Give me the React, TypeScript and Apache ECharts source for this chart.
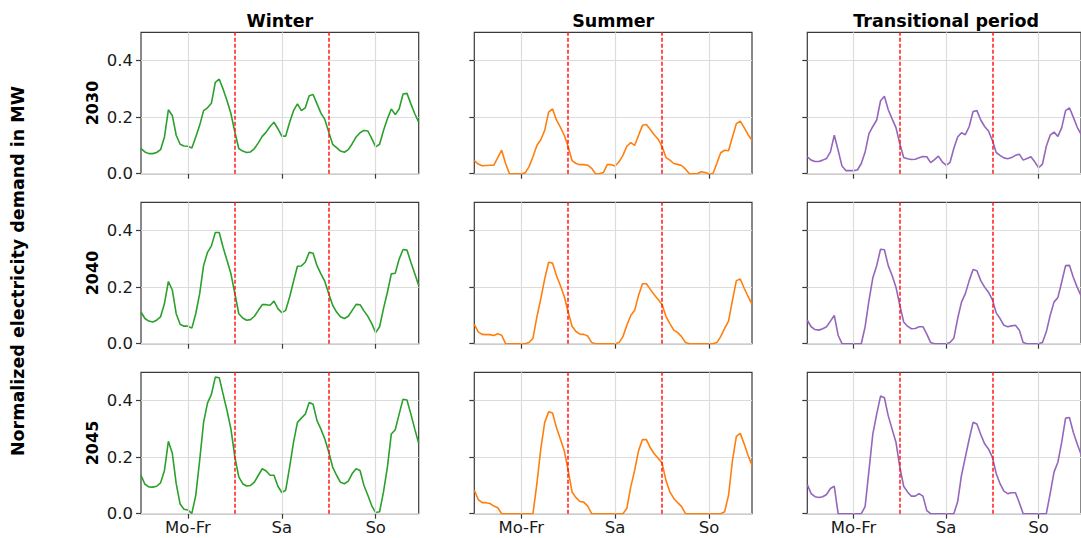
import React, { useEffect, useRef } from "react";
import * as echarts from "echarts";

// ---- data (normalized electricity demand, hourly, 72 h = Mo-Fr day, Sa, So) ----
const seasons = ["Winter", "Summer", "Transitional period"];
const years = ["2030", "2040", "2045"];
const dayLabels = ["Mo-Fr", "Sa", "So"];
const dayTickHours = [12, 36, 60];
const dayBoundaryHours = [24, 48];
const yTickValues = [0, 0.2, 0.4];

const winter2030 = [
  0.089, 0.077, 0.071, 0.071, 0.075, 0.085, 0.13, 0.226, 0.206, 0.136, 0.104, 0.098,
  0.097, 0.091, 0.13, 0.171, 0.223, 0.233, 0.249, 0.323, 0.334, 0.299, 0.258, 0.212,
  0.147, 0.089, 0.08, 0.075, 0.077, 0.089, 0.109, 0.132, 0.147, 0.167, 0.182, 0.159,
  0.133, 0.133, 0.182, 0.223, 0.247, 0.223, 0.233, 0.276, 0.28, 0.247, 0.214, 0.192,
  0.147, 0.104, 0.092, 0.08, 0.076, 0.085, 0.106, 0.13, 0.145, 0.153, 0.151, 0.124,
  0.095, 0.104, 0.153, 0.194, 0.229, 0.209, 0.229, 0.282, 0.284, 0.247, 0.212, 0.182,
];
const summer2030 = [
  0.046, 0.034, 0.028, 0.029, 0.03, 0.03, 0.057, 0.083, 0.036, 0, 0, 0,
  0, 0.003, 0.025, 0.06, 0.1, 0.12, 0.153, 0.218, 0.229, 0.19, 0.165, 0.136,
  0.095, 0.046, 0.036, 0.032, 0.032, 0.03, 0.019, 0, 0, 0.004, 0.032, 0.032,
  0.027, 0.042, 0.065, 0.097, 0.11, 0.1, 0.136, 0.171, 0.174, 0.156, 0.138, 0.122,
  0.097, 0.057, 0.048, 0.036, 0.033, 0.029, 0.016, 0, 0, 0, 0.007, 0.004,
  0, 0, 0.036, 0.074, 0.083, 0.081, 0.13, 0.177, 0.186, 0.163, 0.138, 0.118,
];
const trans2030 = [
  0.06, 0.048, 0.043, 0.043, 0.048, 0.054, 0.077, 0.136, 0.083, 0.027, 0.011, 0.011,
  0.011, 0.013, 0.036, 0.077, 0.142, 0.167, 0.19, 0.258, 0.274, 0.226, 0.194, 0.163,
  0.106, 0.057, 0.053, 0.05, 0.051, 0.056, 0.061, 0.06, 0.039, 0.05, 0.062, 0.042,
  0.03, 0.039, 0.089, 0.13, 0.145, 0.138, 0.167, 0.22, 0.223, 0.19, 0.167, 0.151,
  0.118, 0.075, 0.065, 0.056, 0.053, 0.057, 0.065, 0.069, 0.048, 0.054, 0.06, 0.042,
  0.021, 0.034, 0.097, 0.136, 0.147, 0.132, 0.163, 0.223, 0.233, 0.2, 0.165, 0.14,
];
const winter2040 = [
  0.112, 0.089, 0.08, 0.077, 0.083, 0.095, 0.142, 0.22, 0.19, 0.106, 0.069, 0.062,
  0.062, 0.055, 0.106, 0.177, 0.276, 0.323, 0.346, 0.393, 0.393, 0.34, 0.294, 0.247,
  0.177, 0.106, 0.091, 0.083, 0.085, 0.097, 0.118, 0.138, 0.138, 0.136, 0.151, 0.124,
  0.11, 0.118, 0.165, 0.221, 0.274, 0.275, 0.288, 0.323, 0.32, 0.276, 0.247, 0.22,
  0.177, 0.136, 0.112, 0.095, 0.089, 0.097, 0.118, 0.139, 0.138, 0.116, 0.097, 0.071,
  0.039, 0.06, 0.124, 0.182, 0.247, 0.249, 0.299, 0.333, 0.331, 0.288, 0.247, 0.206,
];
const summer2040 = [
  0.068, 0.042, 0.033, 0.032, 0.032, 0.029, 0.035, 0.03, 0, 0, 0, 0,
  0, 0, 0.004, 0.019, 0.095, 0.159, 0.229, 0.288, 0.285, 0.241, 0.206, 0.167,
  0.112, 0.062, 0.043, 0.034, 0.033, 0.027, 0.004, 0, 0, 0, 0, 0,
  0, 0.004, 0.025, 0.065, 0.1, 0.118, 0.171, 0.212, 0.212, 0.192, 0.173, 0.156,
  0.139, 0.097, 0.071, 0.048, 0.039, 0.025, 0.004, 0, 0, 0, 0, 0,
  0, 0, 0.004, 0.025, 0.054, 0.08, 0.153, 0.223, 0.229, 0.196, 0.167, 0.139,
];
const trans2040 = [
  0.083, 0.06, 0.05, 0.048, 0.053, 0.06, 0.08, 0.1, 0.03, 0, 0, 0,
  0, 0, 0, 0.06, 0.153, 0.233, 0.276, 0.334, 0.332, 0.276, 0.241, 0.2,
  0.136, 0.077, 0.062, 0.053, 0.054, 0.06, 0.06, 0.034, 0.004, 0, 0, 0,
  0, 0.004, 0.019, 0.089, 0.147, 0.177, 0.223, 0.262, 0.258, 0.223, 0.2, 0.182,
  0.156, 0.109, 0.089, 0.065, 0.06, 0.063, 0.065, 0.048, 0.004, 0, 0, 0,
  0, 0.004, 0.042, 0.1, 0.147, 0.163, 0.218, 0.276, 0.277, 0.235, 0.2, 0.17,
];
const winter2045 = [
  0.136, 0.104, 0.095, 0.094, 0.097, 0.109, 0.153, 0.256, 0.214, 0.106, 0.034, 0.016,
  0.013, 0.001, 0.065, 0.188, 0.323, 0.391, 0.422, 0.483, 0.481, 0.422, 0.364, 0.299,
  0.2, 0.13, 0.106, 0.098, 0.1, 0.112, 0.136, 0.159, 0.151, 0.136, 0.136, 0.097,
  0.075, 0.083, 0.165, 0.253, 0.323, 0.338, 0.352, 0.393, 0.387, 0.329, 0.299, 0.264,
  0.218, 0.165, 0.136, 0.111, 0.106, 0.115, 0.142, 0.159, 0.153, 0.1, 0.065, 0.028,
  0.004, 0.007, 0.077, 0.165, 0.282, 0.297, 0.352, 0.405, 0.402, 0.352, 0.299, 0.249,
];
const summer2045 = [
  0.083, 0.05, 0.039, 0.039, 0.036, 0.027, 0.021, 0, 0, 0, 0, 0,
  0, 0, 0, 0, 0.106, 0.229, 0.323, 0.36, 0.356, 0.305, 0.264, 0.223,
  0.153, 0.077, 0.057, 0.043, 0.041, 0.027, 0, 0, 0, 0, 0, 0,
  0, 0, 0, 0.019, 0.095, 0.153, 0.223, 0.262, 0.262, 0.233, 0.212, 0.196,
  0.179, 0.118, 0.077, 0.054, 0.039, 0.025, 0, 0, 0, 0, 0, 0,
  0, 0, 0, 0, 0.007, 0.065, 0.188, 0.273, 0.284, 0.247, 0.206, 0.171,
];
const trans2045 = [
  0.103, 0.071, 0.06, 0.057, 0.06, 0.068, 0.089, 0.097, 0, 0, 0, 0,
  0, 0, 0, 0.025, 0.153, 0.282, 0.352, 0.416, 0.41, 0.346, 0.299, 0.253,
  0.165, 0.097, 0.077, 0.062, 0.062, 0.071, 0.062, 0.011, 0, 0, 0, 0,
  0, 0, 0, 0.042, 0.136, 0.2, 0.264, 0.323, 0.317, 0.28, 0.247, 0.229,
  0.2, 0.142, 0.106, 0.08, 0.071, 0.074, 0.074, 0.039, 0, 0, 0, 0,
  0, 0, 0, 0.071, 0.147, 0.182, 0.253, 0.338, 0.34, 0.288, 0.247, 0.21,
];

const panelData = [
  [winter2030, summer2030, trans2030],
  [winter2040, summer2040, trans2040],
  [winter2045, summer2045, trans2045],
];
const seasonColors = ["#2ca02c", "#ff7f0e", "#9467bd"];

// ---- layout ----
const W = 1081;
const H = 538;
const LEFTS = [141, 474.3, 807.3];
const TOPS = [32.3, 202.3, 372.3];
const PW = 277.7;
const PH = 141.4;
const FONT = "DejaVu Sans, Verdana, sans-serif";
const SPINE = "#3a3a3a";
const GRIDC = "#dcdcdc";

function buildOption() {
  const grid: any[] = [];
  const xAxis: any[] = [];
  const yAxis: any[] = [];
  const series: any[] = [];
  const graphic: any[] = [];

  for (let r = 0; r < 3; r++) {
    for (let c = 0; c < 3; c++) {
      const idx = r * 3 + c;
      grid.push({
        left: LEFTS[c],
        top: TOPS[r],
        width: PW,
        height: PH,
        show: true,
        borderColor: SPINE,
        borderWidth: 1.2,
        backgroundColor: "#ffffff",
        containLabel: false,
      });
      xAxis.push({
        gridIndex: idx,
        type: "value",
        min: 0,
        max: 71,
        axisLine: { show: false },
        splitLine: { show: false },
        axisTick: {
          show: true,
          customValues: dayTickHours,
          length: 5,
          lineStyle: { color: SPINE, width: 1.2 },
        },
        axisLabel: {
          show: r === 2,
          customValues: dayTickHours,
          formatter: (v: number) => dayLabels[dayTickHours.indexOf(Math.round(v))] ?? "",
          fontSize: 16.5,
          fontFamily: FONT,
          color: "#1a1a1a",
          margin: 5,
        },
      });
      yAxis.push({
        gridIndex: idx,
        type: "value",
        min: 0,
        max: 0.5,
        interval: 0.2,
        axisLine: { show: false },
        splitLine: { show: true, lineStyle: { color: GRIDC, width: 1.2 } },
        axisTick: {
          show: true,
          customValues: yTickValues,
          length: 5,
          lineStyle: { color: SPINE, width: 1.2 },
        },
        axisLabel: {
          show: c === 0,
          customValues: yTickValues,
          formatter: (v: number) => v.toFixed(1),
          fontSize: 16.5,
          fontFamily: FONT,
          color: "#1a1a1a",
          margin: 8,
        },
      });
      // vertical grid lines at the day tick positions
      series.push({
        type: "line",
        xAxisIndex: idx,
        yAxisIndex: idx,
        data: [],
        silent: true,
        z: 1,
        markLine: {
          silent: true,
          symbol: ["none", "none"],
          label: { show: false },
          lineStyle: { color: GRIDC, width: 1.2, type: "solid" },
          data: dayTickHours.map((h) => ({ xAxis: h })),
        },
      });
      const vals = panelData[r][c];
      series.push({
        type: "line",
        xAxisIndex: idx,
        yAxisIndex: idx,
        data: vals.map((v, h) => [h, v]),
        showSymbol: false,
        symbol: "none",
        clip: true,
        z: 3,
        lineStyle: { color: seasonColors[c], width: 1.6 },
      });
      // red dashed day boundaries
      series.push({
        type: "line",
        xAxisIndex: idx,
        yAxisIndex: idx,
        data: [],
        silent: true,
        z: 4,
        markLine: {
          silent: true,
          symbol: ["none", "none"],
          label: { show: false },
          lineStyle: { color: "#ff1a1a", width: 1.5, type: [4, 2] },
          data: dayBoundaryHours.map((h) => ({ xAxis: h })),
        },
      });
    }
  }

  seasons.forEach((s, c) => {
    graphic.push({
      type: "text",
      x: LEFTS[c] + PW / 2,
      y: 21,
      style: {
        text: s,
        font: `bold 17.5px ${FONT}`,
        fill: "#000",
        textAlign: "center",
        textVerticalAlign: "middle",
      },
    });
  });
  years.forEach((y, r) => {
    graphic.push({
      type: "text",
      x: 92,
      y: TOPS[r] + PH / 2,
      rotation: Math.PI / 2,
      style: {
        text: y,
        font: `bold 16px ${FONT}`,
        fill: "#000",
        textAlign: "center",
        textVerticalAlign: "middle",
      },
    });
  });
  graphic.push({
    type: "text",
    x: 18,
    y: 271,
    rotation: Math.PI / 2,
    style: {
      text: "Normalized electricity demand in MW",
      font: `bold 17.5px ${FONT}`,
      fill: "#000",
      textAlign: "center",
      textVerticalAlign: "middle",
    },
  });

  return {
    animation: false,
    backgroundColor: "#ffffff",
    grid,
    xAxis,
    yAxis,
    series,
    graphic,
  };
}

export default function App() {
  const ref = useRef<HTMLDivElement>(null);
  useEffect(() => {
    if (!ref.current) return;
    const chart = echarts.init(ref.current, undefined, { renderer: "svg" });
    chart.setOption(buildOption() as any);
    return () => chart.dispose();
  }, []);
  return (
    <div
      ref={ref}
      style={{ position: "fixed", left: 0, top: 0, width: W, height: H, background: "#fff" }}
    />
  );
}
